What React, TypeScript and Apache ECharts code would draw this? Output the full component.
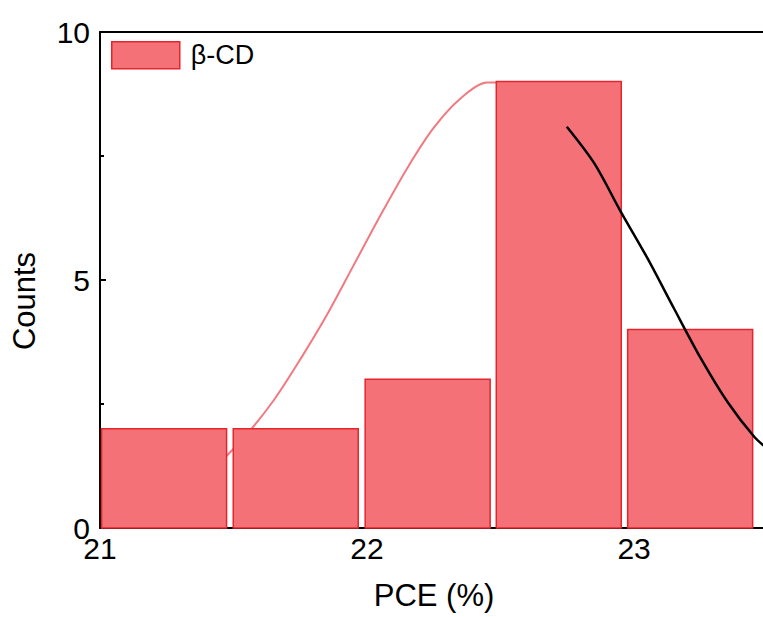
import React, { useEffect, useRef } from "react";
import * as echarts from "echarts";

// Histogram bins (bin centres in PCE %, counts)
const binCenters = [21.24, 21.733, 22.227, 22.718, 23.21];
const counts = [2, 2, 3, 9, 4];
const binWidth = 0.468;

// Pink distribution curve (x, y)
const pinkX = [21.45, 21.55, 21.65, 21.75, 21.85, 21.95, 22.05, 22.15, 22.25, 22.35, 22.45, 22.55, 22.65];
const pinkY = [1.32, 1.89, 2.57, 3.4, 4.3, 5.3, 6.3, 7.25, 8.07, 8.66, 8.98, 8.98, 8.66];

// Black curve (x, y)
const blackX = [22.748, 22.85, 22.95, 23.05, 23.15, 23.25, 23.35, 23.45, 23.51];
const blackY = [8.09, 7.36, 6.38, 5.44, 4.42, 3.42, 2.54, 1.84, 1.55];

const xTicks = [21, 22, 23];
const yTicks = [0, 5, 10];
const seriesName = "β-CD";
const xTitle = "PCE (%)";
const yTitle = "Counts";

const X_MAX = 23.509;
const FONT = "'Liberation Sans', Arial, Helvetica, sans-serif";
const BAR_FILL = "#F47178";
const BAR_BORDER = "#E5252C";

export default function App() {
  const ref = useRef<HTMLDivElement>(null);
  useEffect(() => {
    if (!ref.current) return;
    document.body.style.overflow = "hidden";
    const chart = echarts.init(ref.current, undefined, { renderer: "svg" });
    const barData = binCenters.map((c, i) => [c, counts[i]]);
    const pinkData = pinkX.map((x, i) => [x, pinkY[i]]);
    const blackData = blackX.map((x, i) => [x, blackY[i]]);
    const axisLineStyle = { color: "#000", width: 2 };
    chart.setOption({
      animation: false,
      backgroundColor: "#fff",
      grid: { left: 100, right: 0, top: 32, bottom: 89, containLabel: false },
      legend: {
        left: 111,
        top: 41,
        padding: 0,
        itemWidth: 68,
        itemHeight: 27,
        data: [{ name: seriesName, icon: "rect" }],
        itemStyle: { color: BAR_FILL, borderColor: BAR_BORDER, borderWidth: 1.5 },
        textStyle: { fontSize: 27, color: "#000", fontFamily: FONT, padding: [0, 0, 0, 6] },
      },
      xAxis: [
        {
          type: "value",
          min: xTicks[0],
          max: X_MAX,
          interval: 1,
          splitLine: { show: false },
          axisLine: { lineStyle: axisLineStyle },
          axisTick: { inside: true, length: 6, lineStyle: { color: "#000", width: 2 } },
          minorTick: { show: true, splitNumber: 2, length: 4, lineStyle: { color: "#000", width: 2 } },
          axisLabel: {
            fontSize: 30,
            lineHeight: 24,
            color: "#000",
            fontFamily: FONT,
            margin: 8,
            showMaxLabel: false,
            formatter: (v: number) => (xTicks.includes(v) ? String(v) : ""),
          },
        },
        {
          type: "value",
          position: "top",
          min: xTicks[0],
          max: X_MAX,
          axisLine: { show: true, onZero: false, lineStyle: axisLineStyle },
          axisTick: { show: false },
          axisLabel: { show: false },
          splitLine: { show: false },
        },
      ],
      yAxis: {
        type: "value",
        min: yTicks[0],
        max: yTicks[yTicks.length - 1],
        interval: 5,
        splitLine: { show: false },
        axisLine: { show: true, lineStyle: axisLineStyle },
        axisTick: { inside: true, length: 6, lineStyle: { color: "#000", width: 2 } },
        minorTick: { show: true, splitNumber: 2, length: 4, lineStyle: { color: "#000", width: 2 } },
        axisLabel: { fontSize: 30, lineHeight: 24, color: "#000", fontFamily: FONT, margin: 10 },
      },
      graphic: [
        {
          type: "text",
          x: 434,
          y: 595,
          style: { text: xTitle, fontSize: 31, fill: "#000", fontFamily: FONT, align: "center", verticalAlign: "middle" },
        },
        {
          type: "text",
          x: 24,
          y: 301,
          rotation: Math.PI / 2,
          style: { text: yTitle, fontSize: 31, fill: "#000", fontFamily: FONT, align: "center", verticalAlign: "middle" },
        },
      ],
      series: [
        {
          name: "pinkCurve",
          type: "line",
          data: pinkData,
          smooth: 0.3,
          showSymbol: false,
          z: 1,
          lineStyle: { color: "#F07A80", width: 2 },
        },
        {
          name: seriesName,
          type: "custom",
          z: 2,
          itemStyle: { color: BAR_FILL, borderColor: BAR_BORDER, borderWidth: 1.5 },
          renderItem: (params: any, api: any) => {
            const c = api.value(0);
            const v = api.value(1);
            const p0 = api.coord([c - binWidth / 2, v]);
            const p1 = api.coord([c + binWidth / 2, 0]);
            return {
              type: "rect",
              shape: { x: p0[0], y: p0[1], width: p1[0] - p0[0], height: p1[1] - p0[1] },
              style: { fill: BAR_FILL, stroke: BAR_BORDER, lineWidth: 1.5 },
            };
          },
          data: barData,
        },
        {
          name: "blackCurve",
          type: "line",
          data: blackData,
          smooth: 0.3,
          showSymbol: false,
          z: 3,
          lineStyle: { color: "#000", width: 2.5 },
        },
      ],
    });
    return () => chart.dispose();
  }, []);
  return (
    <div
      ref={ref}
      style={{ position: "fixed", left: 0, top: 0, width: 770, height: 617 }}
    />
  );
}
